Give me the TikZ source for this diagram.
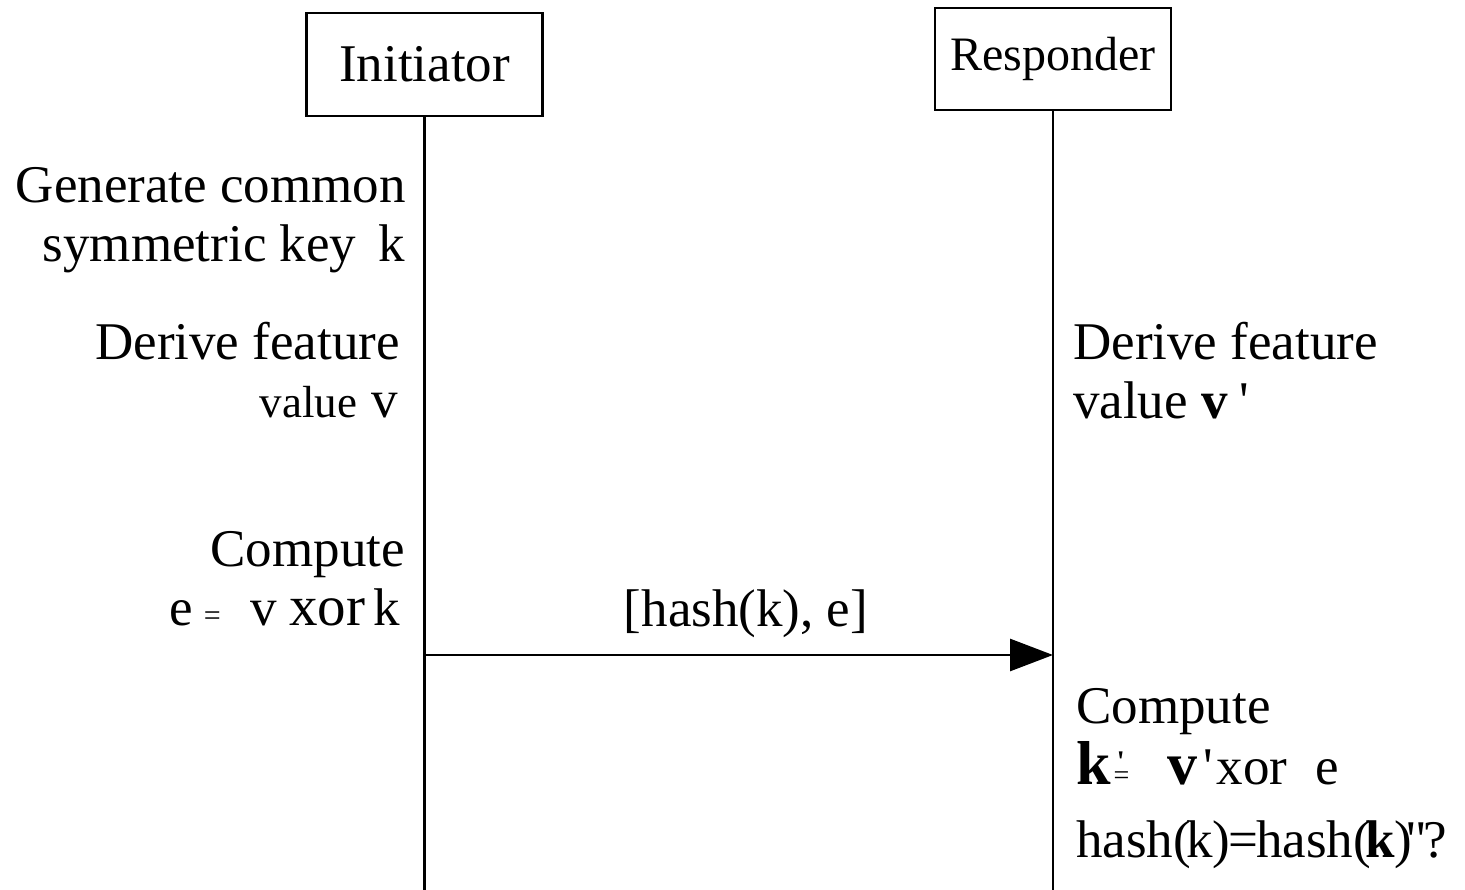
\documentclass[tikz,border=0pt]{standalone}
\usepackage{fontspec}
\setmainfont{Liberation Serif}
\usetikzlibrary{arrows.meta}
\newcommand{\fsz}[1]{\fontsize{#1}{#1}\selectfont}
\newcommand{\sq}{\textquotesingle}
\begin{document}
\begin{tikzpicture}[x=1pt,y=-1pt,
  lane/.style={draw,line width=2.8pt,minimum width=236pt,inner sep=0pt,font=\fsz{53}},
  life/.style={line width=2.8pt},
  msg/.style={line width=2.8pt,-{Triangle[length=43pt,width=32pt]}},
  txt/.style={inner sep=0pt,font=\fsz{53}}]
\useasboundingbox (0,0) rectangle (1465,890);

% participants
\node[lane,minimum height=103pt] (ini) at (424.5,64.5) {Initiator};
\node[lane,minimum height=102pt,font=\fsz{48}] (res) at (1053,59) {\raisebox{-4pt}{Responder}};

% lifelines
\coordinate (iend) at (424.5,890);
\coordinate (rend) at (1053,890);
\draw[life] (ini.south) -- (iend);
\draw[life] (res.south) -- (rend);

% initiator steps
\node[txt,anchor=base east] (gen1) at (406,203) {Generate common};
\node[txt,anchor=base east] (gen2) at (405,262) {symmetric key\kern22pt k};
\node[txt,anchor=base east] (der1) at (400,360) {Derive feature};
\node[txt,anchor=base east] (der2) at (398,418) {{\fsz{45}value}\kern14pt v};
\node[txt,anchor=base east] (cmp1) at (405,566) {Compute};
\node[txt,anchor=base east] (cmp2) at (400,625)
  {e\kern11pt{\fsz{30}=}\kern30pt v\kern12pt{\fsz{57}xor}\kern8pt k};

% responder steps
\node[txt,anchor=base west] (rder1) at (1073,360) {Derive feature};
\node[txt,anchor=base west] (rder2) at (1073,419) {value \textbf{v}\kern12pt\sq};
\node[txt,anchor=base west] (rcmp1) at (1076,723) {Compute};
\node[txt,anchor=base west] (rcmp2) at (1076,784)
  {{\fsz{62}\textbf{k}}\kern3pt\rlap{\raisebox{13pt}{\fsz{30}\kern3pt\textbf{\sq}}}{\fsz{28}=}\kern38pt{\fsz{60}\textbf{v}}\kern6pt\sq\kern4pt xor\kern28pt e};
\node[txt,anchor=base west] (rchk) at (1076,857)
  {hash(\kern-5pt k)\kern-2pt=\kern-2pt hash(\kern-5pt\textbf{k}\kern-1pt)\kern-6pt\textquotedbl\kern-4pt?};

% message
\coordinate (ms) at (424.5,655);
\coordinate (me) at (1053,655);
\draw[msg] (ms) -- (me);
\node[txt,anchor=base] (lbl) at (746,626) {[hash(k), e]};
\end{tikzpicture}
\end{document}
